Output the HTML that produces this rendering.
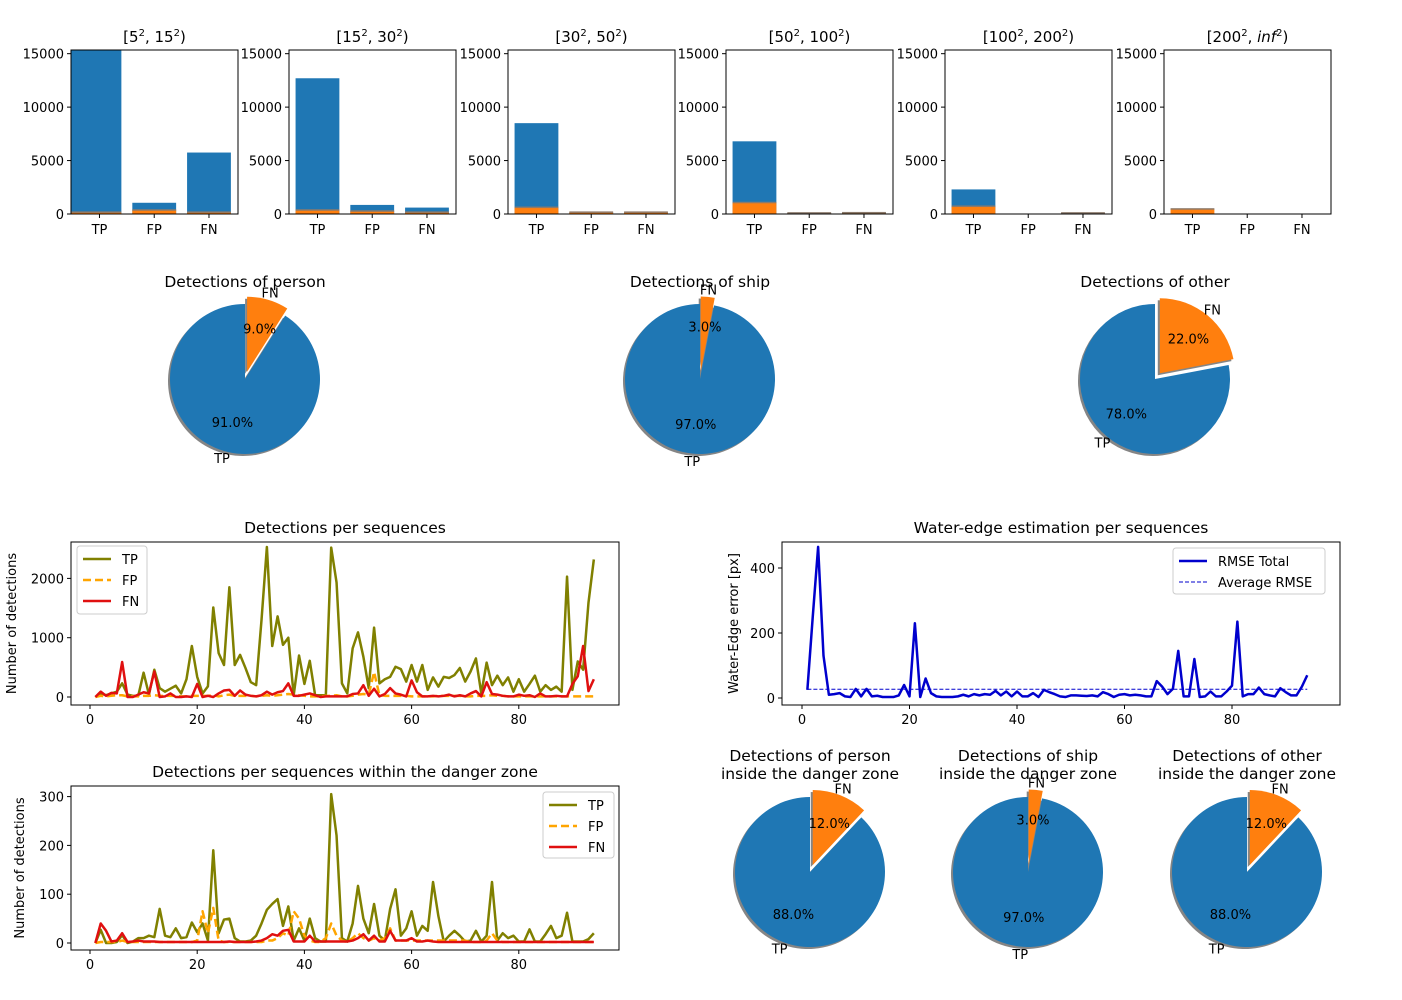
<!DOCTYPE html>
<html><head><meta charset="utf-8"><style>
html,body{margin:0;padding:0;background:#fff}
svg{display:block;font-family:"DejaVu Sans","Liberation Sans",sans-serif}
</style></head><body>
<svg id="fig" width="1402" height="1000" viewBox="0 0 1402 1000" xmlns="http://www.w3.org/2000/svg"></svg>
<script>
// ---------- data ----------
const barCategories = ["TP","FP","FN"];
const binTitles = ["[5<sup>2</sup>, 15<sup>2</sup>)","[15²,30²)"];
const binLabels = [["5","15"],["15","30"],["30","50"],["50","100"],["100","200"],["200","inf"]];
const binBlue = [[15500,1050,5750],[12700,850,600],[8500,150,150],[6800,80,150],[2300,0,80],[0,0,0]];
const binOrange = [[150,350,150],[350,250,150],[600,150,150],[1050,80,100],[700,0,80],[450,0,0]];
const barTicks = [0,5000,10000,15000];

const pieNames = ["person","ship","other"];
const pieFN = [9,3,22];
const dangerFN = [12,3,12];

const seqX = Array.from({length:94},(_,i)=>i+1);
const tpAll = [0,60,30,60,90,230,40,20,20,410,40,460,150,90,140,190,60,300,860,340,60,180,1510,740,540,1850,540,710,490,250,200,1300,2530,860,1360,880,1000,30,700,220,610,30,30,30,2520,1930,230,60,820,1090,680,150,1170,230,300,340,510,470,260,540,260,540,120,330,175,340,320,370,490,260,430,650,60,580,200,360,200,330,90,300,90,220,360,90,200,120,175,90,2030,120,600,460,1590,2320];
const fpAll = [0,20,10,20,30,30,10,10,10,20,20,30,20,20,20,20,10,10,20,20,20,20,30,10,30,40,20,20,20,20,10,20,30,20,30,40,50,40,30,20,10,10,10,20,20,30,10,10,20,40,50,40,420,30,20,20,20,20,20,10,10,10,10,10,20,20,20,20,20,10,10,20,20,20,30,20,20,10,10,10,10,10,10,10,10,10,10,10,10,10,10,10,10,10];
const fnAll = [0,90,20,70,60,590,0,0,40,80,60,430,0,10,60,0,0,10,0,220,0,20,0,60,110,120,20,110,40,20,10,30,90,40,80,100,230,20,20,40,60,30,0,10,10,10,10,10,50,60,200,20,140,10,50,150,60,40,10,280,80,10,10,20,10,20,40,10,30,10,60,100,10,250,50,40,20,10,10,40,20,30,0,60,10,10,20,10,10,220,350,860,100,300];
const tpZone = [0,27,0,0,2,16,0,3,10,10,15,12,70,15,12,30,10,12,42,22,40,5,190,20,48,50,10,3,3,5,15,40,68,80,90,35,75,5,30,5,50,10,3,3,305,220,10,3,40,117,50,20,80,15,5,70,110,15,30,65,15,35,25,125,55,3,15,25,15,3,5,25,3,15,125,5,20,10,15,3,3,28,3,3,18,35,10,15,62,3,3,3,8,20];
const fpZone = [0,2,2,2,2,5,2,2,2,2,2,2,2,2,2,2,2,2,2,5,65,20,72,5,2,2,2,2,2,2,2,2,5,5,10,20,15,65,50,15,5,2,2,10,40,15,5,2,10,20,10,5,10,5,10,30,5,5,5,5,5,5,5,5,5,5,5,5,5,5,2,2,2,5,20,5,2,2,2,2,2,2,2,2,2,2,2,2,2,2,2,2,2,2];
const fnZone = [0,40,25,3,5,20,2,3,5,3,3,3,2,2,2,2,2,2,2,2,2,2,2,2,2,3,2,2,2,2,3,5,10,18,15,25,27,3,3,3,15,3,3,3,3,3,3,3,5,10,18,5,15,3,3,25,5,5,5,10,3,3,5,3,2,2,2,2,2,2,2,2,2,2,2,2,2,2,2,2,2,2,2,2,2,2,2,2,2,2,2,2,2,2];
const rmse = [25,250,465,130,10,12,15,5,3,28,5,28,5,7,3,3,3,8,40,5,230,3,60,15,5,3,3,3,5,10,5,12,8,12,10,22,8,20,5,20,5,5,15,3,25,18,12,5,3,8,8,7,6,8,5,18,12,3,10,12,8,10,8,5,5,52,35,12,28,145,5,5,120,3,5,20,5,5,20,38,235,5,12,12,32,12,8,5,30,18,8,8,35,70];
const rmseAvg = 27;

// ---------- helpers ----------
const NS="http://www.w3.org/2000/svg";
const svg=document.getElementById('fig');
function mk(tag,attrs,parent){const e=document.createElementNS(NS,tag);for(const k in attrs)e.setAttribute(k,attrs[k]);(parent||svg).appendChild(e);return e;}
function txt(x,y,s,size,anchor,parent){const t=mk('text',{x:x,y:y,'font-size':size,'text-anchor':anchor||'middle',fill:'#000'},parent);t.textContent=s;return t;}

// ---------- bar panels ----------
const panelLefts=[71,289,508,726,945,1164];
const pW=167, pTop=50, pBot=214, yMax=15344;
panelLefts.forEach((L,pi)=>{
  const g=mk('g',{});
  
  
  const xs=v=>L+(v+0.52)/3.05*pW;
  const ys=v=>pBot-(v/yMax)*(pBot-pTop);
  const cp='clip'+pi;
  const cl=mk('clipPath',{id:cp},g);mk('rect',{x:L,y:pTop,width:pW,height:pBot-pTop},cl);
  const bars=mk('g',{'clip-path':'url(#'+cp+')'},g);
  barCategories.forEach((c,ci)=>{
    const x0=xs(ci-0.4), x1=xs(ci+0.4);
    const bx0 = (pi===0&&ci===0)?L:x0;
    if(binBlue[pi][ci]>0){const r=mk('rect',{x:bx0,y:ys(binBlue[pi][ci]),width:x1-bx0,height:pBot-ys(binBlue[pi][ci]),fill:'#1f77b4'},bars);
      
      }
    if(binOrange[pi][ci]>0){const r=mk('rect',{x:bx0,y:ys(binOrange[pi][ci]),width:x1-bx0,height:pBot-ys(binOrange[pi][ci]),fill:'#ff7f0e'},bars);
      
      
      mk('rect',{x:bx0,y:ys(binOrange[pi][ci])-1,width:x1-bx0,height:1.5,fill:'#8c7a6b'},bars);}
    mk('line',{x1:xs(ci),x2:xs(ci),y1:pBot,y2:pBot+4,stroke:'#000'},g);
    txt(xs(ci),pBot+20,c,13,'middle',g);
  });
  mk('rect',{x:L,y:pTop,width:pW,height:pBot-pTop,fill:'none',stroke:'#000','stroke-width':1},g);
  barTicks.forEach(t=>{mk('line',{x1:L-4,x2:L,y1:ys(t),y2:ys(t),stroke:'#000'},g);txt(L-7,ys(t)+5,String(t),13,'end',g);});
  const tt=mk('text',{x:L+pW/2,y:42,'font-size':15,'text-anchor':'middle'},g);
  
  
  const b=binLabels[pi];
  const parts=[['[',0],[b[0],0],['2',1],[', ',0],[b[1],0],['2',1],[')',0]];
  parts.forEach(([s,sup],k)=>{const ts=mk('tspan',sup?{'font-size':10,dy:-6}:(k>0&&parts[k-1][1]?{dy:6}:{}),tt);ts.textContent=s;if(!sup&&s==='inf')ts.setAttribute('font-style','italic');});
});

// ---------- pies ----------
function pie(cx,cy,r,fn,titleLines,name,titleY){
  const g=mk('g',{});
  
  
  const tp=100-fn;
  const a0=90, aSplit=90+tp*3.6; // TP ccw from 90
  const rad=d=>d*Math.PI/180;
  const P=(ccx,ccy,rr,d)=>[ccx+rr*Math.cos(rad(d)),ccy-rr*Math.sin(rad(d))];
  const wedge=(ccx,ccy,s,e,fill,sh)=>{const p1=P(ccx,ccy,r,s),p2=P(ccx,ccy,r,e);const large=(e-s)>180?1:0;
    return mk('path',{d:`M${ccx},${ccy}L${p1[0]},${p1[1]}A${r},${r} 0 ${large} 0 ${p2[0]},${p2[1]}Z`,fill:fill,stroke:sh?'none':'none'},g);};
  const fnMid=(aSplit+450)/2, tpMid=(a0+aSplit)/2;
  const ex=P(cx,cy,0.1*r,fnMid);
  // shadows
  wedge(cx-2,cy+2,a0,aSplit,'#666').setAttribute('opacity','0.8');
  wedge(ex[0]-2,ex[1]+2,aSplit,450,'#666').setAttribute('opacity','0.8');
  const w1=wedge(cx,cy,a0,aSplit,'#1f77b4');
  
  
  const w2=wedge(ex[0],ex[1],aSplit,450,'#ff7f0e');
  
  
  let l=P(cx,cy,1.1*r,tpMid);txt(l[0],l[1]+5,'TP',13,'middle',g);
  l=P(ex[0],ex[1],1.1*r,fnMid);txt(l[0],l[1]+5,'FN',13,'middle',g);
  l=P(cx,cy,0.6*r,tpMid);txt(l[0],l[1]+5,tp.toFixed(1)+'%',13,'middle',g);
  l=P(ex[0],ex[1],0.6*r,fnMid);txt(l[0],l[1]+5,fn.toFixed(1)+'%',13,'middle',g);
  titleLines.forEach((s,i)=>txt(cx,titleY+i*18,s,15.5,'middle',g));
}
const pieCx=[245,700,1155];
pieNames.forEach((n,i)=>pie(pieCx[i],379,75,pieFN[i],['Detections of '+n],'pie-'+n,287));
const dzCx=[810,1028,1247];
pieNames.forEach((n,i)=>pie(dzCx[i],872,75,dangerFN[i],['Detections of '+n,'inside the danger zone'],'danger-pie-'+n,761));

// ---------- line charts ----------
function lineChart(opt){
  const g=mk('g',{});
  
  
  const {L,R,T,B}=opt.box;
  const xs=v=>opt.x0+opt.xk*v, ys=v=>opt.y0-opt.yk*v;
  mk('rect',{x:L,y:T,width:R-L,height:B-T,fill:'none',stroke:'#000'},g);
  [0,20,40,60,80].forEach(t=>{mk('line',{x1:xs(t),x2:xs(t),y1:B,y2:B+4,stroke:'#000'},g);txt(xs(t),B+19,String(t),13,'middle',g);});
  opt.yticks.forEach(t=>{mk('line',{x1:L-4,x2:L,y1:ys(t),y2:ys(t),stroke:'#000'},g);txt(L-7,ys(t)+5,String(t),13,'end',g);});
  opt.series.forEach(s=>{
    const pts=s.data.map((v,i)=>xs(seqX[i])+','+ys(v)).join(' ');
    const pl=mk('polyline',{points:pts,fill:'none',stroke:s.color,'stroke-width':s.w||2.5,'stroke-dasharray':s.dash||'none','stroke-linejoin':'round'},g);
    
    
  });
  txt((L+R)/2,T-9,opt.title,15.5,'middle',g);
  const yl=txt(0,0,opt.ylabel,13,'middle',g);yl.setAttribute('transform',`translate(${opt.ylx},${(T+B)/2}) rotate(-90)`);
  const lg=opt.legend;
  const lgG=mk('g',{},g);
  
  
  mk('rect',{x:lg.x,y:lg.y,width:lg.w,height:lg.h,rx:3,fill:'#fff',stroke:'#ccc'},lgG);
  opt.series.forEach((s,i)=>{const yy=lg.y+13+i*21;
    mk('line',{x1:lg.x+6,x2:lg.x+34,y1:yy,y2:yy,stroke:s.color,'stroke-width':s.w||2.5,'stroke-dasharray':s.dash||'none'},lgG);
    txt(lg.x+45,yy+5,s.label,13,'start',lgG);});
}
lineChart({name:'detections-per-sequence-chart',box:{L:71,R:619,T:542,B:705},x0:90,xk:5.36,y0:697,yk:0.0593,yticks:[0,1000,2000],
  title:'Detections per sequences',ylabel:'Number of detections',ylx:16,legend:{x:77,y:546,w:70,h:68},
  series:[{label:'TP',data:tpAll,color:'#808000'},{label:'FP',data:fpAll,color:'#ffa500',dash:'8 4'},{label:'FN',data:fnAll,color:'#e01010'}]});
lineChart({name:'water-edge-chart',box:{L:782,R:1340,T:542,B:705},x0:802,xk:5.375,y0:698,yk:0.325,yticks:[0,200,400],
  title:'Water-edge estimation per sequences',ylabel:'Water-Edge error [px]',ylx:738,legend:{x:1173,y:548,w:152,h:46},
  series:[{label:'RMSE Total',data:rmse,color:'#0000cd'},{label:'Average RMSE',data:rmse.map(()=>rmseAvg),color:'#0000cd',dash:'4 2',w:1}]});
lineChart({name:'danger-zone-detections-chart',box:{L:71,R:619,T:786,B:950},x0:90,xk:5.36,y0:943,yk:0.488,yticks:[0,100,200,300],
  title:'Detections per sequences within the danger zone',ylabel:'Number of detections',ylx:24,legend:{x:543,y:792,w:71,h:66},
  series:[{label:'TP',data:tpZone,color:'#808000'},{label:'FP',data:fpZone,color:'#ffa500',dash:'8 4'},{label:'FN',data:fnZone,color:'#e01010'}]});
</script>
</body></html>
